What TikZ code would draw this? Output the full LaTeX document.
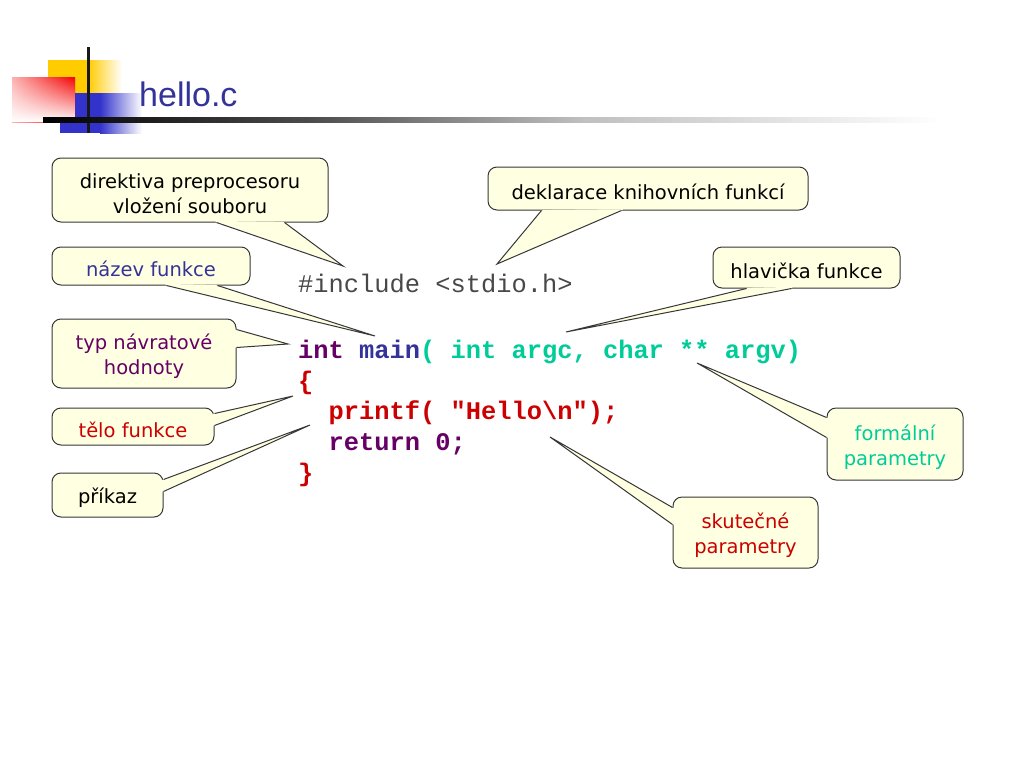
\documentclass[tikz,border=0pt]{standalone}
\usepackage{fontspec}
\setmainfont{DejaVu Sans}
\setsansfont{Liberation Sans}
\setmonofont{Liberation Mono}
\usetikzlibrary{calc,fadings}

\definecolor{notebg}{RGB}{255,255,225}
\definecolor{noteedge}{RGB}{55,55,55}
\definecolor{cblue}{RGB}{51,51,153}
\definecolor{cpurple}{RGB}{102,0,102}
\definecolor{cred}{RGB}{204,0,0}
\definecolor{cteal}{RGB}{0,204,153}
\definecolor{cgray}{RGB}{72,72,72}
\definecolor{logoyellow}{RGB}{255,204,0}
\definecolor{logored}{RGB}{245,0,0}
\definecolor{logoblue}{RGB}{51,51,204}

\pgfdeclarehorizontalshading{rulefade}{100bp}{color(0bp)=(black); color(25bp)=(black); color(40bp)=(black!70); color(55bp)=(black!25); color(75bp)=(white); color(100bp)=(white)}

\tikzset{
  note/.style={draw=noteedge, fill=notebg, line width=1pt, rounded corners=9pt,
    align=center, inner sep=0pt, font=\fontsize{19.5}{25}\selectfont},
  codeline/.style={anchor=base west, inner sep=0pt,
    font=\ttfamily\fontsize{25.4}{30}\selectfont},
  code/.style={codeline, font=\ttfamily\fontsize{25.4}{30}\selectfont\bfseries}
}

\newcommand{\notestrut}{\rule{0pt}{22pt}}
\newcommand{\notepointer}[4]{%
  \fill[notebg] (#2) -- (#3) -- (#4) -- ($(#4)!2pt!(#1.center)$) -- ($(#2)!2pt!(#1.center)$) -- cycle;
  \draw[noteedge, line width=1pt] (#2) -- (#3) -- (#4);}

\begin{document}
\begin{tikzpicture}[x=1pt, y=-1pt]
  \useasboundingbox (0,0) rectangle (1024,768);
  \fill[white] (0,0) rectangle (1024,768);

  % logo
  \fill[logoyellow] (48,60) rectangle (88,93);
  \shade[left color=logoyellow, right color=white] (88,60) rectangle (122,93);
  \fill[logoblue] (60,93) rectangle (100,133);
  \shade[left color=logoblue, right color=white] (100,93) rectangle (142,133);
  \begin{scope}[y=1pt]
    \shade[left color=logored!30!white, right color=logored] (12,-122) rectangle (75,-77);
    \fill[white, path fading=north] (12,-122) rectangle (75,-77);
  \end{scope}
  \fill[black!90] (86.5,47) rectangle (90,133);
  \shade[shading=rulefade] (43,117.5) rectangle (940,122);
  \node[anchor=base west, inner sep=0pt, text=cblue,
    font=\sffamily\fontsize{34}{40}\selectfont] (title) at (139,106) {hello.c};

  % code
  \node[codeline, text=cgray] (incl) at (298,292) {\#include <stdio.h>};
  \node[code] (sig) at (298,358) {\textcolor{cpurple}{int} \textcolor{cblue}{main}\textcolor{cteal}{( int argc, char ** argv)}};
  \node[code, text=cred] (open) at (298,389) {\{};
  \node[code, text=cred] (call) at (328.5,419) {printf( "Hello\textbackslash n");};
  \node[code, text=cpurple] (ret) at (328.5,450) {return 0;};
  \node[code, text=cred] (close) at (298,481) {\}};

  % callouts
  \node[note, minimum width=276, minimum height=64] (dir) at (190,190)
    {\notestrut direktiva preprocesoru\\vložení souboru};
  \node[note, minimum width=198, minimum height=38, text=cblue] (fname) at (151,266)
    {\notestrut název funkce};
  \node[note, minimum width=184, minimum height=69, text=cpurple] (rettype) at (144,353.5)
    {\notestrut typ návratové\\hodnoty};
  \node[note, minimum width=162, minimum height=37, text=cred] (body) at (133,426.5)
    {\notestrut tělo funkce};
  \node[note, minimum width=111, minimum height=44] (stmt) at (107.5,495)
    {\notestrut příkaz};
  \node[note, minimum width=320, minimum height=43] (decl) at (648,188.5)
    {\notestrut deklarace knihovních funkcí};
  \node[note, minimum width=187, minimum height=41] (head) at (806.5,267.5)
    {\notestrut hlavička funkce};
  \node[note, minimum width=136, minimum height=72, text=cteal] (formal) at (895,444)
    {\notestrut formální\\parametry};
  \node[note, minimum width=145, minimum height=71, text=cred] (actual) at (745.5,532.5)
    {\notestrut skutečné\\parametry};

  % pointers
  \coordinate (dir-a) at ($(dir.south west)+(165,0)$);
  \coordinate (dir-b) at ($(dir.south west)+(233,0)$);
  \coordinate (dir-tip) at (343,266);
  \notepointer{dir}{dir-a}{dir-tip}{dir-b}
  \coordinate (fname-a) at ($(fname.south west)+(115,0)$);
  \coordinate (fname-b) at ($(fname.south west)+(166,0)$);
  \coordinate (fname-tip) at (375,336);
  \notepointer{fname}{fname-a}{fname-tip}{fname-b}
  \coordinate (rettype-a) at ($(rettype.north east)+(0,11)$);
  \coordinate (rettype-b) at ($(rettype.north east)+(0,29)$);
  \coordinate (rettype-tip) at (288,344);
  \notepointer{rettype}{rettype-a}{rettype-tip}{rettype-b}
  \coordinate (body-a) at ($(body.north east)+(0,6)$);
  \coordinate (body-b) at ($(body.north east)+(0,18)$);
  \coordinate (body-tip) at (293,396);
  \notepointer{body}{body-a}{body-tip}{body-b}
  \coordinate (stmt-a) at ($(stmt.north east)+(0,7)$);
  \coordinate (stmt-b) at ($(stmt.north east)+(0,19)$);
  \coordinate (stmt-tip) at (310,425);
  \notepointer{stmt}{stmt-a}{stmt-tip}{stmt-b}
  \coordinate (decl-a) at ($(decl.south west)+(54,0)$);
  \coordinate (decl-b) at ($(decl.south west)+(134,0)$);
  \coordinate (decl-tip) at (497,264);
  \notepointer{decl}{decl-a}{decl-tip}{decl-b}
  \coordinate (head-a) at ($(head.south west)+(34,0)$);
  \coordinate (head-b) at ($(head.south west)+(79,0)$);
  \coordinate (head-tip) at (566,332);
  \notepointer{head}{head-a}{head-tip}{head-b}
  \coordinate (formal-a) at ($(formal.north west)+(0,10)$);
  \coordinate (formal-b) at ($(formal.north west)+(0,30)$);
  \coordinate (formal-tip) at (697,363);
  \notepointer{formal}{formal-a}{formal-tip}{formal-b}
  \coordinate (actual-a) at ($(actual.north west)+(0,11)$);
  \coordinate (actual-b) at ($(actual.north west)+(0,28)$);
  \coordinate (actual-tip) at (550,437);
  \notepointer{actual}{actual-a}{actual-tip}{actual-b}
\end{tikzpicture}
\end{document}
